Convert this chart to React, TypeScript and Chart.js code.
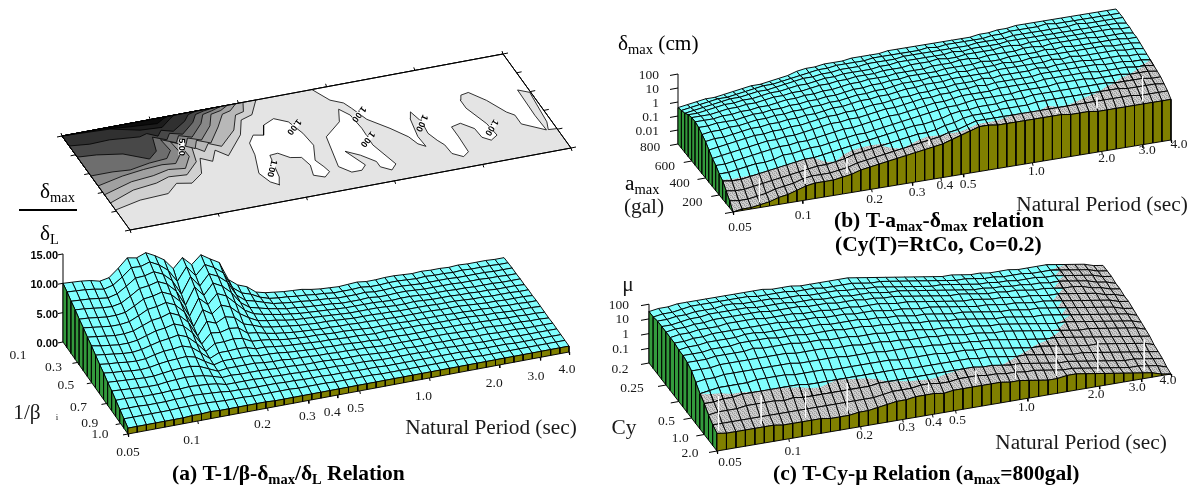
import { useEffect, useRef } from "react";
import { Chart, registerables } from "chart.js";
Chart.register(...registerables);

const W = 1196, H = 489;
const SERIF = '"Liberation Serif"';

// ---------- DATA ----------
// Natural period ticks (sec)
const periodTicks = [0.05, 0.1, 0.2, 0.3, 0.4, 0.5, 1, 2, 3, 4];
const periodLabels = ["0.05", "0.1", "0.2", "0.3", "0.4", "0.5", "1.0", "2.0", "3.0", "4.0"];

// (a) delta_max/delta_L x 10, rows back (1/beta=0.1) to front (1/beta=1.0), columns T=0.05..4.0
const aRatio = [
[100,99,98,96,92,95,108,123,120,126,118,108,90,106,91,105,95,86,54,42,36,24,20,18,16,15,14,11,9,8,7,8,9,7,7,8,8,7,6,7,6,6,5,6,5,5,5,4,4],
[95,94,93,91,88,92,103,116,115,120,112,100,78,100,82,98,90,78,50,38,33,25,20,18,17,15,14,12,11,9,9,9,10,8,8,9,9,8,7,8,7,7,6,7,6,6,6,5,5],
[89,88,87,85,83,87,97,108,109,113,106,92,66,93,74,92,85,72,47,35,31,26,21,19,17,16,14,13,12,10,10,10,11,9,9,10,10,9,8,8,8,8,7,7,7,7,6,6,6],
[84,83,81,79,78,81,90,100,102,106,99,84,57,85,68,86,78,64,44,33,29,25,22,19,18,16,15,14,13,11,11,11,12,10,10,11,11,10,9,9,9,9,8,8,8,7,7,6,6],
[78,77,75,73,73,75,83,92,94,98,91,76,48,76,62,78,71,56,41,32,28,25,22,20,18,17,16,15,14,13,13,13,13,12,11,12,12,11,10,10,10,9,9,8,8,8,7,7,7],
[73,71,69,67,67,69,76,84,86,90,83,68,40,66,56,68,62,48,38,30,27,25,22,20,19,18,17,16,15,14,14,14,14,13,12,12,13,12,11,11,11,10,10,9,9,8,8,8,7],
[67,65,63,61,61,63,69,75,77,82,75,60,34,56,50,58,54,40,35,29,26,24,22,20,19,18,18,17,16,15,15,15,14,14,13,13,13,13,12,12,12,11,10,10,9,9,9,8,8],
[62,59,57,55,55,57,62,67,69,73,67,52,30,46,44,48,46,34,32,28,25,23,21,20,19,18,18,17,17,16,16,15,15,14,14,14,14,14,13,13,13,12,11,10,10,9,9,9,8],
[56,54,52,50,49,51,55,59,61,64,58,44,27,38,38,40,38,30,29,27,24,22,21,20,20,19,18,18,17,16,15,15,15,15,14,14,14,14,14,13,13,12,12,11,11,10,10,9,9],
[50,48,47,45,44,45,49,52,53,55,50,38,25,32,32,33,32,27,27,25,23,22,21,20,19,19,18,17,17,16,15,16,15,15,15,15,14,14,14,14,14,13,12,12,11,10,10,10,9],
[45,43,42,40,39,40,43,45,46,47,43,33,24,28,28,28,28,25,25,24,22,21,20,19,19,18,18,17,16,16,14,15,15,14,14,14,15,14,14,14,13,13,12,12,11,11,10,10,9],
[39,38,37,36,35,35,37,39,40,40,37,30,23,25,25,25,25,23,22,22,20,20,19,18,18,17,17,16,16,15,14,14,14,14,14,14,14,14,13,13,12,13,12,11,11,11,10,10,9],
[34,33,32,31,30,30,32,33,34,33,31,27,22,23,22,22,22,21,20,20,19,18,18,18,17,16,16,16,15,14,13,13,14,13,13,14,13,13,13,12,12,12,11,11,11,10,10,10,10],
[28,28,27,26,26,26,27,27,28,27,26,24,20,20,20,20,19,19,18,18,17,17,16,16,16,15,15,15,14,13,13,13,13,13,12,13,13,12,12,12,11,11,11,11,10,10,10,10,10],
[22,22,22,21,21,21,22,22,23,22,21,20,18,18,17,17,17,17,16,16,15,15,15,14,14,14,13,13,13,12,12,12,12,12,12,12,12,12,11,11,11,11,11,10,10,10,10,10,10],
[16,16,16,16,16,16,17,17,17,17,16,15,15,15,14,14,14,14,14,13,13,13,13,12,12,12,12,12,11,11,11,11,11,11,11,11,11,11,11,10,10,10,10,10,10,10,10,10,10],
[10,10,10,10,10,10,10,11,11,12,11,11,11,11,11,11,10,10,10,10,10,10,10,10,10,10,10,10,10,10,10,10,10,10,10,10,10,10,10,10,10,10,10,10,10,10,10,10,10],
];

// (b) delta_max in tenths of a decade above 0.001 cm; rows a_max=800 (back) to 0 (front)
const bLogDelta = [
[26,27,28,29,29,30,31,32,33,33,34,35,36,38,39,39,40,40,40,41,41,41,41,42,42,42,42,42,42,42,42,42,42,43,43,44,44,45,45,45,45,45,45,45,45,45,45,45,45],
[27,28,29,30,31,31,32,33,34,35,35,36,37,38,39,40,40,41,41,41,41,42,42,42,42,42,42,43,42,43,43,43,43,43,44,44,45,45,45,45,46,45,45,45,45,45,45,45,45],
[28,29,30,31,32,33,33,34,35,35,36,37,38,39,39,40,40,41,41,41,42,42,42,42,43,43,43,43,43,43,43,43,44,44,44,44,45,45,45,45,45,45,45,46,45,45,45,45,45],
[30,30,31,32,33,33,34,34,35,36,36,37,38,38,39,40,40,41,41,41,41,42,42,43,43,43,43,43,43,44,43,44,44,44,44,45,45,45,45,45,45,45,45,45,45,45,45,45,44],
[31,31,31,32,33,33,34,34,35,36,36,37,37,38,39,39,40,40,41,41,41,42,42,42,43,43,43,44,43,43,44,44,44,44,45,45,44,45,45,45,45,45,45,45,45,45,45,44,44],
[31,31,31,32,32,33,33,34,34,35,36,36,37,37,38,38,39,40,40,41,41,41,42,42,42,42,43,43,43,44,44,43,44,44,44,44,45,45,44,45,45,45,45,45,44,44,44,44,43],
[30,30,31,31,31,32,33,33,34,34,35,35,36,36,37,37,38,39,39,40,40,41,41,42,42,42,42,43,43,43,43,44,43,43,44,44,44,44,45,44,45,44,44,44,44,44,44,43,43],
[28,29,29,30,30,31,32,32,33,33,34,34,35,35,36,36,37,38,38,39,39,40,41,41,41,42,42,42,43,42,43,43,43,44,43,43,44,44,44,44,44,44,44,44,44,43,43,43,42],
[26,27,27,28,29,30,30,31,31,32,32,33,33,34,35,35,36,37,37,38,38,39,40,40,41,41,41,42,42,42,42,42,43,43,43,43,43,43,44,43,44,43,43,43,43,43,42,42,41],
[23,24,25,26,27,28,28,29,29,30,30,31,32,33,33,34,34,35,36,36,37,38,38,39,39,40,40,41,41,41,42,41,42,42,42,42,43,42,43,43,43,43,42,42,42,42,41,41,40],
[20,21,22,23,24,25,26,26,27,27,28,29,30,31,31,32,32,33,34,35,35,36,37,38,38,39,39,40,40,41,40,41,41,41,41,41,42,42,42,42,42,42,42,41,41,41,40,40,39],
[18,18,19,20,21,22,23,24,24,25,25,26,27,28,29,29,30,31,32,33,33,34,35,36,37,37,38,39,39,39,39,40,40,40,40,40,41,41,41,41,41,41,40,40,40,40,39,39,38],
[15,15,16,17,18,18,19,21,21,22,23,23,24,25,26,27,27,28,29,30,31,32,33,34,35,36,36,37,38,38,38,38,38,39,39,39,39,40,40,40,40,39,39,39,39,38,38,38,37],
[13,12,12,13,14,15,16,17,18,19,19,20,21,22,23,24,25,26,27,28,29,30,30,31,32,34,35,35,36,36,36,37,37,37,38,38,38,38,38,38,38,38,38,37,37,37,37,36,36],
[9,8,8,9,10,11,12,13,14,15,16,16,17,18,20,21,22,23,24,25,26,27,27,28,30,31,33,34,34,34,35,35,35,35,36,36,36,36,36,36,36,36,36,36,35,35,35,35,34],
[5,4,4,5,6,8,9,10,12,13,13,13,14,15,17,18,19,20,21,22,23,24,25,26,28,29,31,33,33,33,33,33,33,33,33,33,33,33,33,33,33,33,33,33,33,32,32,32,32],
[0,1,1,2,3,5,6,8,10,11,11,11,12,13,15,16,17,18,19,20,21,22,23,24,26,28,30,32,32,31,31,31,31,31,31,31,31,30,30,30,29,29,29,29,29,29,29,29,29],
];
// row position, per column, at which the surface turns from cyan to the grey (small-response) colour
const bGreyFrom = [12.8,12.8,12.8,12.9,13,13,13,13,13,13,13,13.7,14,13.6,13.5,13.5,13.6,13.8,14.6,15,14.8,14.6,14.5,14.8,15.1,15.4,15.5,15.5,15.5,15.4,15.2,15,15,15,15,14.6,14.9,14.9,14.7,14.4,14.2,13.9,13.4,12.9,12.4,12,11.4,10.7,10];
const bWhiteDashes = [3,8,12.6,21.6,26.5,35.6,40,45];

// (c) mu in tenths of a decade above 0.01; rows Cy=0.2 (back) to 2.0 (front)
const cLogMu = [
[35,36,36,37,37,37,37,37,37,37,37,37,37,36,36,36,35,35,35,35,35,35,34,33,32,31,30,29,28,27,26,25,25,24,23,23,22,22,22,21,21,21,21,20,19,18,17,15,14],
[35,36,36,37,38,38,38,38,38,38,38,37,37,37,37,36,36,36,35,35,35,35,34,33,33,32,31,30,29,28,27,26,25,25,24,23,23,22,22,22,21,21,21,20,19,18,17,15,14],
[36,36,37,37,38,38,38,39,39,38,38,38,38,37,37,37,36,36,36,36,35,35,34,34,33,32,31,30,29,28,28,27,26,25,24,24,23,23,22,22,22,21,21,20,19,18,17,15,14],
[36,36,37,38,38,39,39,39,39,39,38,38,38,38,37,37,37,36,36,36,35,35,35,34,33,33,32,31,30,29,28,27,26,25,25,24,24,23,23,22,22,21,21,20,19,18,16,15,13],
[36,37,37,38,38,39,39,39,39,39,39,38,38,38,38,37,37,37,36,36,36,35,35,34,34,33,32,31,30,29,28,28,27,26,25,25,24,24,23,22,22,21,20,20,19,17,16,14,13],
[36,37,37,38,38,38,39,39,39,39,38,38,38,38,37,37,37,36,36,36,35,35,35,34,33,33,32,31,30,29,28,27,27,26,25,25,24,23,23,22,21,21,20,19,18,17,15,14,12],
[36,36,37,37,38,38,38,38,38,38,38,38,37,37,37,37,36,36,36,35,35,35,34,33,33,32,31,31,30,29,28,27,26,26,25,24,24,23,22,22,21,20,19,18,17,16,15,13,12],
[35,36,36,37,37,37,37,38,38,37,37,37,37,36,36,36,35,35,35,35,34,34,33,33,32,31,31,30,29,28,28,27,26,25,24,24,23,22,22,21,20,19,18,17,16,15,14,12,11],
[35,35,35,36,36,36,37,37,37,37,36,36,36,35,35,35,35,34,34,34,33,33,32,32,31,30,30,29,28,28,27,26,25,24,24,23,22,21,21,20,19,18,17,16,15,14,13,12,10],
[34,34,34,35,35,35,35,36,35,35,35,35,34,34,34,33,33,33,32,32,32,31,31,30,30,29,28,28,27,26,26,25,24,24,23,22,21,20,19,18,18,17,16,15,14,13,12,11,9],
[32,32,32,33,33,33,33,33,33,33,33,32,32,32,32,31,31,31,30,30,30,29,29,28,28,28,27,27,26,25,25,24,23,23,22,21,20,19,18,17,16,15,15,14,13,12,11,10,8],
[28,29,29,30,30,30,30,30,30,30,30,29,29,29,29,29,28,28,28,28,27,27,27,27,26,26,25,25,24,24,23,23,22,21,20,19,18,17,17,16,15,14,13,12,11,10,9,8,7],
[24,25,26,26,26,26,27,27,27,27,26,26,26,26,25,25,25,25,25,25,25,24,24,24,24,24,23,23,23,22,22,21,20,19,18,17,17,16,15,14,13,12,12,11,10,9,8,7,5],
[21,21,22,22,23,23,23,23,23,23,23,22,22,22,22,22,22,22,22,22,22,22,21,21,21,21,21,21,21,20,20,19,18,17,17,16,15,14,13,12,12,11,10,9,8,7,6,5,4],
[17,18,18,18,19,19,19,19,18,19,18,18,18,18,18,18,18,18,19,19,19,19,19,19,19,19,19,19,19,18,18,17,16,16,15,14,13,12,12,11,10,9,8,7,6,6,5,4,3],
[14,14,14,14,14,14,14,14,14,14,14,14,14,14,14,14,14,14,15,16,16,16,17,17,16,16,17,17,17,16,16,15,15,14,14,13,12,11,11,10,9,8,7,6,5,5,4,3,1],
[12,11,11,11,11,11,11,10,10,10,10,10,9,9,9,10,10,11,12,13,13,14,14,14,13,14,14,14,14,14,14,13,13,12,11,10,10,11,11,10,9,8,7,6,5,4,3,1,0],
];
const cGreyFrom = [12,12.3,12.5,12.7,12.8,12.9,13,13,13,13.1,13.2,13.3,13.4,13.2,13,13.1,13.2,13.3,13.6,14,14.1,14.3,14.4,14.5,14.4,14.2,14.1,14,14,14,14,14,13.5,13,12.6,12.1,11.6,11.2,10.7,9.7,8.6,5,2.8,0.5,0,0,0,0,0];
const cWhiteDashes = [0.3,4.8,9.5,13.9,22.5,27.5,31.7,36,40.4,45.3];

// Contour map of (a): outlines in [period index, row index]
const contourBands: number[][][] = [
[[0,12.6],[3.05,11.8],[6.2,11.6],[7.7,10.3],[9.2,10.7],[10.8,9.5],[11.7,7.2],[12.7,8],[13.7,6.4],[14.6,7.6],[17.2,4.8],[18.3,2.6],[19.7,2.1],[21.1,0]],
[[0,11.4],[3.1,10.1],[5.8,9.7],[7.4,9.1],[9.3,9.3],[11.1,7.6],[11.7,5.2],[12.6,6.3],[13.5,5.2],[14.6,6],[16.9,3.9],[18.1,1.7],[19.1,1.4],[19.7,0]],
[[0,10],[3.5,8.8],[6,8.5],[7.9,8],[9.6,8.3],[10.8,6.6],[10.7,4.6],[11.9,5.6],[12.6,4.4],[13.8,5.2],[15.6,3],[16.9,1.2],[17.9,0.9],[18.9,0]],
[[0,8.5],[3,7.7],[5.5,7.3],[7.6,7.1],[9,7.3],[10.2,5.9],[10,3.9],[11.2,4.9],[11.9,3.8],[13.1,4.5],[14.9,2.6],[15.8,0.9],[17,0.6],[18,0]],
[[0,6.8],[2.4,6.8],[4.2,7],[6.5,6.5],[8.5,6.3],[9.4,5.2],[9.2,3.3],[10.5,4.2],[11.2,3.2],[12.4,3.8],[14.2,2],[15,0.7],[16.1,0.4],[17.2,0]],
[[0,3.6],[2,3.8],[4.6,4.4],[6.8,5.9],[8,4.9],[8.6,2.7],[9.8,3.5],[10.5,2.6],[11.7,3.1],[13.5,1.6],[14.3,0.5],[15.3,0.2],[16.4,0]],
[[0,1.7],[2.1,2],[4.3,1.9],[7.4,2.3],[8.3,2],[9.2,2.7],[9.9,1.9],[11,2.4],[12.8,1.2],[13.6,0.3],[14.6,0]],
[[0,0],[5.1,0.3],[7.9,1.3],[10.2,1.5],[11.6,0.4],[12.2,0]],
[[3.5,0],[7,0.5],[10,0.8],[11,0.2],[11.5,0]],
];
const whiteIslandOne = [[18.4,5.2],[17.5,6.3],[17.2,8.2],[16.3,11.1],[16.8,12.7],[17.5,13.4],[18,12.2],[18.6,8.7],[19.5,8.6],[20.4,9.6],[21.5,9.9],[21.8,11.3],[21.4,12.9],[22.4,13.5],[23.2,12.8],[23,11.9],[22.6,10.7],[23.5,8.4],[23.3,6.3],[22.7,4.2],[21.5,3.3],[20.1,4],[19.4,5.5]];
const whiteIslandTwo = [[28.4,3.7],[27.6,5.6],[25.3,7.5],[24.4,12.3],[25.3,13.5],[26.4,13.5],[27.1,12.8],[26.1,10.2],[27.3,11.2],[28.4,12.6],[28.4,13.5],[29.3,14.3],[30.1,13.5],[29.2,10],[29.3,7.2],[29.1,4.9]];
const whiteBack = [[27.2,0],[28.2,2.1],[29.3,2.9],[29.7,3.9],[30.4,6],[32,8],[33.2,9.8],[33.6,11.1],[34.2,11.7],[34.1,10],[34.6,7.1],[35.1,6.1],[35.5,7.9],[35.3,9.8],[35.7,11.1],[36.1,12],[36.2,13.5],[37.1,14.3],[37.9,13.7],[38,11.2],[38,9.5],[39.1,9.2],[40.1,10.4],[40.2,11.9],[40.9,12.6],[41.8,12],[41.6,10],[40.7,7.1],[40.7,5.7],[41.1,5],[42,4.8],[43.2,6.5],[44.3,8.8],[44.9,9.5],[44.9,11],[46.9,12.6],[46.8,10.1],[46.9,5.8],[47.9,6.5],[47.5,11.4],[47.1,12.6],[48,12.7],[48,0]];
const contourLabelSpots: [string, number, number, number][] = [
["5.00",10.7,5,90],["1.00",22.9,5.1,128],["1.00",17.9,10.7,105],["1.00",30,5,128],["1.00",29.1,9,128],["1.00",35.4,8.1,115],["1.00",41.8,10.7,122],
];
const bandGreys = ["#d0d0d0","#b8b8b8","#a0a0a0","#888888","#6e6e6e","#484848","#303030","#1c1c1c","#0c0c0c"];

// ---------- GEOMETRY OF THE THREE VIEWS ----------
type View = { ox:number; oy:number; cx:number; cy:number; rx:number; ry:number; zs:number };
const viewA: View = { ox:63, oy:342, cx:441/48, cy:-82/48, rx:65/16, ry:92/16, zs:0.587 };
const viewB: View = { ox:678, oy:144, cx:438/48, cy:-72/48, rx:55/16, ry:68/16, zs:1.4 };
const viewC: View = { ox:649, oy:363, cx:454/48, cy:-77/48, rx:68/16, ry:88/16, zs:1.47 };
const viewMap: View = { ox:62, oy:136, cx:441/48, cy:-82/48, rx:68/16, ry:94/16, zs:0 };
const project = (v: View, c: number, r: number, z = 0) => ({ x: v.ox + c*v.cx + r*v.rx, y: v.oy + c*v.cy + r*v.ry - z*v.zs });
const periodCol = (t: number) => 48 * Math.log(t/0.05) / Math.log(80);

const CYAN = "#80ffff", GREEN = "#339a3c", OLIVE = "#808000";
const MESH = 0.95;

function greyPattern(): CanvasPattern | string {
  const p = document.createElement("canvas");
  p.width = 4; p.height = 4;
  const g = p.getContext("2d");
  if (!g) return "#b9b9b9";
  g.fillStyle = "#cfcfcf"; g.fillRect(0,0,4,4);
  g.fillStyle = "#a2a2a2";
  g.fillRect(0,0,1,1); g.fillRect(2,1,1,1); g.fillRect(1,2,1,1); g.fillRect(3,3,1,1); g.fillRect(2,3,1,1); g.fillRect(0,1,1,1);
  return g.createPattern(p, "repeat") || "#b9b9b9";
}

function buildDatasets() {
  const paint: any[] = [];
  const poly = (pts: {x:number;y:number}[], fill: any, lw = 1, stroke = "#000") => {
    paint.push({ data: [...pts, pts[0]], showLine: true, pointRadius: 0, borderWidth: lw, borderColor: stroke, backgroundColor: fill, fill: "shape", tension: 0, borderJoinStyle: "miter" });
  };
  const patch = (pts: {x:number;y:number}[], fill: any) => {
    paint.push({ data: [...pts, pts[0]], showLine: true, pointRadius: 0, borderWidth: 0, borderColor: "transparent", backgroundColor: fill, fill: "shape", tension: 0 });
  };
  const line = (pts: {x:number;y:number}[], lw = 1, stroke = "#000") => {
    paint.push({ data: pts, showLine: true, pointRadius: 0, borderWidth: lw, borderColor: stroke, fill: false, tension: 0 });
  };
  const grey = greyPattern();

  const surface = (v: View, grid: number[][], greyFrom: number[] | null, dashes: number[], zTop: number, zTicks: number[], rowTickAt: number[], tl: number) => {
    const rows = grid.length, cols = grid[0].length;
    const val = (r: number, c: number) => { const row = grid[r]; return row[c] ?? row[row.length-1]; };
    const edgeZ = (c: number, t: number) => {
      const r0 = Math.min(Math.floor(t), rows-2), f = t - r0;
      return val(r0,c)*(1-f) + val(r0+1,c)*f;
    };
    const clamp = (t: number, a: number, b: number) => Math.max(a, Math.min(b, t));
    line([project(v,0,0,0), project(v,0,0,zTop)]);
    zTicks.forEach(z => { const p = project(v,0,0,z); line([{x:p.x-tl,y:p.y+tl*0.18},p]); });
    rowTickAt.forEach(r => { const p = project(v,0,r,0); line([{x:p.x-tl,y:p.y+tl*0.18},p]); });
    periodTicks.forEach(t => { const p = project(v,periodCol(t),16,0); line([p,{x:p.x+0.6,y:p.y+3}]); });
    for (let r = 0; r < rows-1; r++) {
      for (let c = cols-2; c >= 0; c--) {
        const cell = [project(v,c,r,val(r,c)),project(v,c+1,r,val(r,c+1)),project(v,c+1,r+1,val(r+1,c+1)),project(v,c,r+1,val(r+1,c))];
        if (!greyFrom) { poly(cell, CYAN, MESH); continue; }
        const g0 = greyFrom[c], g1 = greyFrom[c+1];
        if (r+1 <= Math.min(g0,g1)) poly(cell, CYAN, MESH);
        else if (r >= Math.max(g0,g1)) poly(cell, grey, MESH);
        else {
          const t0 = clamp(g0,r,r+1), t1 = clamp(g1,r,r+1);
          poly(cell, grey, MESH);
          patch([cell[0],cell[1],project(v,c+1,t1,edgeZ(c+1,t1)),project(v,c,t0,edgeZ(c,t0))], CYAN);
          line([...cell, cell[0]], MESH);
        }
      }
    }
    for (let r = 0; r < rows-1; r++) {
      poly([project(v,0,r,val(r,0)),project(v,0,r+1,val(r+1,0)),project(v,0,r+1,0),project(v,0,r,0)], GREEN, MESH);
    }
    for (let c = cols-2; c >= 0; c--) {
      poly([project(v,c,rows-1,val(rows-1,c)),project(v,c+1,rows-1,val(rows-1,c+1)),project(v,c+1,rows-1,0),project(v,c,rows-1,0)], OLIVE, MESH);
    }
    // pale vertical streaks inside the grey zone
    if (greyFrom) dashes.forEach(d => {
      const c = Math.round(d), from = Math.max(greyFrom[c] + 0.3, 11.5);
      const a = project(v,d,from,edgeZ(c,from)), b = project(v,d,15.7,edgeZ(c,15.7));
      line([{x:b.x,y:a.y},{x:b.x,y:b.y}], 1, "rgba(255,255,255,0.9)");
    });
  };

  // contour map of (a)
  const m = (a: number[][]) => a.map(([c,r]) => project(viewMap,c,r));
  poly(m([[0,0],[48,0],[48,16],[0,16]]), "#e4e4e4", 1);
  poly(m(whiteBack), "#ffffff", 0.8);
  poly(m(whiteIslandOne), "#ffffff", 0.8);
  poly(m(whiteIslandTwo), "#ffffff", 0.8);
  contourBands.forEach((b,i) => {
    const closing = b[0][1] === 0 ? [] : [[0,0]];
    poly(m([...b, ...closing]), bandGreys[i], 0.8);
  });
  line(m([[0,0],[48,0],[48,16],[0,16],[0,0]]), 1);
  [0,9.6,19.2,28.8,38.4,48].forEach(c => {
    const p = project(viewMap,c,0); line([p,{x:p.x-1,y:p.y-3}]);
    const q = project(viewMap,c,16); line([q,{x:q.x+1,y:q.y+3}]);
  });
  [0,3.2,6.4,9.6,12.8,16].forEach(r => {
    const p = project(viewMap,0,r); line([{x:p.x-5,y:p.y+1},p]);
    const q = project(viewMap,48,r); line([q,{x:q.x+5,y:q.y-1}]);
  });

  surface(viewA, aRatio, null, [], 150, [0,50,100,150], [3.56,7.1,10.7,14.2,16], 5);
  surface(viewB, bLogDelta, bGreyFrom, bWhiteDashes, 50, [0,10,20,30,40,50], [4,8,12,16], 8);
  surface(viewC, cLogMu, cGreyFrom, cWhiteDashes, 40, [0,10,20,30,40], [4,7,10,13,16], 8);

  return paint.reverse();
}

// ---------- TEXT ----------
type Run = [string, string, number];
const B19 = `bold 21.5px ${SERIF}`, B13 = `bold 14.5px ${SERIF}`;
const S20 = `21.3px ${SERIF}`, S14 = `14.5px ${SERIF}`, S13 = `13.5px ${SERIF}`;
const richTexts: { x:number; y:number; runs: Run[] }[] = [
  { x:172, y:480, runs:[["(a) T-1/β-δ",B19,0],["max",B13,4],["/δ",B19,0],["L",B13,4],[" Relation",B19,0]] },
  { x:834, y:227, runs:[["(b) T-a",B19,0],["max",B13,4],["-δ",B19,0],["max",B13,4],[" relation",B19,0]] },
  { x:835, y:251, runs:[["(Cy(T)=RtCo, Co=0.2)",B19,0]] },
  { x:773, y:480, runs:[["(c) T-Cy-μ Relation (a",B19,0],["max",B13,4],["=800gal)",B19,0]] },
  { x:40, y:198, runs:[["δ",S20,0],["max",S14,4]] },
  { x:40, y:240, runs:[["δ",S20,0],["L",S14,4]] },
  { x:618, y:50, runs:[["δ",S20,0],["max",S14,4],[" (cm)",S20,0]] },
  { x:625, y:190, runs:[["a",S20,0],["max",S14,4]] },
];
const plainTexts: [string, number, number, string, CanvasTextAlign][] = [
  ["Natural Period (sec)",491,428,S20,"center"],
  ["Natural Period (sec)",1102,205,S20,"center"],
  ["Natural Period (sec)",1081,443,S20,"center"],
  ["1/β",27,413,S20,"center"],
  ["i",57,418,`9px ${SERIF}`,"center"],
  ["(gal)",644,207,S20,"center"],
  ["Cy",624,428,S20,"center"],
  ["μ",628,285,S20,"center"],
];
const aRowLabels: [string, number, number, number][] = [["0.1",0,-45,13],["0.3",3.56,-24,4.5],["0.5",7.1,-26,3],["0.7",10.7,-28,3.5],["0.9",14.2,-31,0],["1.0",16,-28,0]];
const bRowLabels: [string, number, number, number][] = [["800",0,-28,3],["600",4,-27,5],["400",8,-26,5],["200",12,-27,7]];
const cRowLabels: [string, number, number, number][] = [["0.2",0,-29,6],["0.25",4,-34,3],["0.5",10,-25,3],["1.0",13,-24,3.5],["2.0",16,-27,2]];
const aPeriodOffsets = [[0,18],[-6,19],[-5,16],[-1,16],[-5,17],[-4,18],[-6,19],[-5,18],[-4,19],[-2,17]];
const bPeriodOffsets = [[7,15],[1,15],[3,10],[5,9.5],[4,8],[5,10],[4,9],[5,7],[5,6],[8,4]];
const cPeriodOffsets = [[13,11],[4,13],[4,9],[4,8],[1,8],[2,10],[-1,9],[-3,8],[-4,8],[-3,6]];
const aZLabels: [string, number][] = [["15.00",150],["10.00",100],["5.00",50],["0.00",0]];
const bZLabels: [string, number][] = [["100",50],["10",40],["1",30],["0.1",20],["0.01",10]];
const cZLabels: [string, number][] = [["100",40],["10",30],["1",20],["0.1",10]];

const textPlugin = {
  id: "panelText",
  afterDatasetsDraw(chart: any) {
    const ctx: CanvasRenderingContext2D = chart.ctx;
    ctx.save();
    ctx.fillStyle = "#000";
    ctx.textBaseline = "alphabetic";
    richTexts.forEach(t => {
      let x = t.x;
      t.runs.forEach(([s,f,dy]) => { ctx.font = f; ctx.textAlign = "left"; ctx.fillText(s,x,t.y+dy); x += ctx.measureText(s).width; });
    });
    ctx.textBaseline = "middle";
    ctx.fillStyle = "#1a1a1a";
    plainTexts.forEach(([s,x,y,f,al]) => { ctx.font = f; ctx.textAlign = al; ctx.fillText(s,x,y); });
    ctx.font = S13; ctx.textAlign = "center";
    const rowL = (v: View, list: [string,number,number,number][]) => list.forEach(([s,r,dx,dy]) => { const p = project(v,0,r); ctx.fillText(s,p.x+dx,p.y+dy); });
    rowL(viewA,aRowLabels); rowL(viewB,bRowLabels); rowL(viewC,cRowLabels);
    const perL = (v: View, off: number[][]) => periodLabels.forEach((s,i) => { const p = project(v,periodCol(periodTicks[i]),16); ctx.fillText(s,p.x+off[i][0],p.y+off[i][1]); });
    perL(viewA,aPeriodOffsets); perL(viewB,bPeriodOffsets); perL(viewC,cPeriodOffsets);
    ctx.textAlign = "right";
    bZLabels.forEach(([s,z]) => { const p = project(viewB,0,0,z); ctx.fillText(s,p.x-19,p.y+1); });
    cZLabels.forEach(([s,z]) => { const p = project(viewC,0,0,z); ctx.fillText(s,p.x-20,p.y+1); });
    ctx.font = `bold 11px "Liberation Sans"`;
    ctx.fillStyle = "#000";
    aZLabels.forEach(([s,z]) => { const p = project(viewA,0,0,z); ctx.fillText(s,p.x-5,p.y+2); });
    ctx.textAlign = "center";
    ctx.font = `bold 9px "Liberation Sans"`;
    contourLabelSpots.forEach(([s,c,r,deg]) => {
      const p = project(viewMap,c,r);
      ctx.save(); ctx.translate(p.x,p.y); ctx.rotate(deg*Math.PI/180);
      ctx.fillStyle = "#fff"; ctx.fillRect(-8,-3,16,6);
      ctx.fillStyle = "#000"; ctx.fillText(s,0,0);
      ctx.restore();
    });
    ctx.fillStyle = "#000";
    ctx.fillRect(19,209,58,2);
    ctx.restore();
  },
};

export default function App() {
  const ref = useRef<HTMLCanvasElement>(null);
  useEffect(() => {
    if (!ref.current) return;
    const chart = new Chart(ref.current, {
      type: "scatter",
      data: { datasets: buildDatasets() },
      plugins: [textPlugin],
      options: {
        animation: false, responsive: false, devicePixelRatio: 1, events: [],
        layout: { padding: 0 },
        plugins: { legend: { display: false }, tooltip: { enabled: false }, title: { display: false } },
        scales: {
          x: { type: "linear", min: 0, max: W, display: false },
          y: { type: "linear", min: 0, max: H, reverse: true, display: false },
        },
      },
    } as any);
    return () => chart.destroy();
  }, []);
  return (
    <div style={{ position: "absolute", left: 0, top: 0, width: W, height: H }}>
      <canvas ref={ref} width={W} height={H} style={{ display: "block", width: W, height: H }} />
    </div>
  );
}
